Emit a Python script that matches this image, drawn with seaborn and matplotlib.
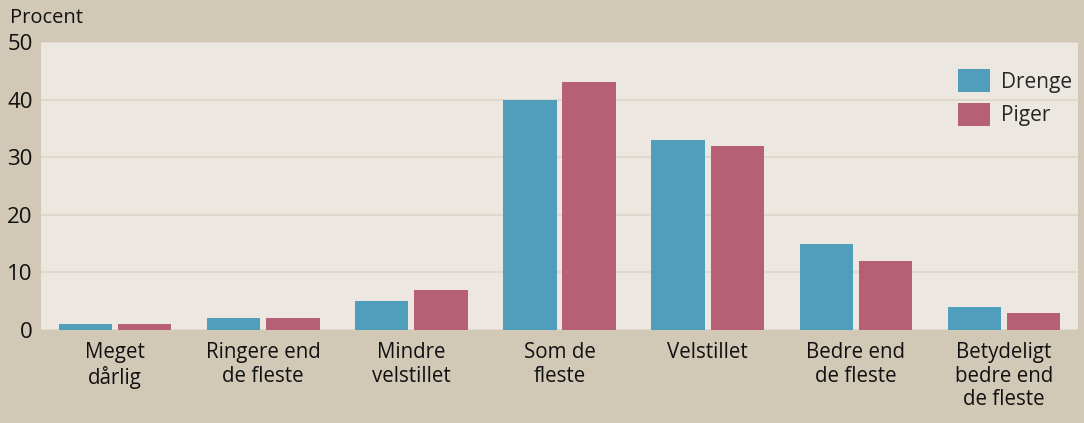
import pandas as pd
import matplotlib.pyplot as plt
import seaborn as sns

# data
categories = ['Meget\ndårlig', 'Ringere end\nde fleste', 'Mindre\nvelstillet', 'Som de\nfleste',
              'Velstillet', 'Bedre end\nde fleste', 'Betydeligt\nbedre end\nde fleste']
drenge = [1, 2, 5, 40, 33, 15, 4]
piger = [1, 2, 7, 43, 32, 12, 3]
groups = ['Drenge', 'Piger']
yticks = [0, 10, 20, 30, 40, 50]

outer_bg = '#D1C8B5'
inner_bg = '#ECE7E0'
palette = {'Drenge': '#4F9EBB', 'Piger': '#B76075'}

sns.set_theme(style='white')
plt.rcParams['font.family'] = ['Open Sans', 'DejaVu Sans']

df = pd.DataFrame({
    'kategori': categories * 2,
    'procent': drenge + piger,
    'køn': ['Drenge'] * len(categories) + ['Piger'] * len(categories),
})

fig = plt.figure(figsize=(10.84, 4.23), dpi=100, facecolor=outer_bg)
ax = fig.add_axes([0.0378, 0.2199, 0.9567, 0.6808])
ax.set_facecolor(inner_bg)

sns.barplot(data=df, x='kategori', y='procent', hue='køn', hue_order=groups,
            palette=palette, width=0.8, gap=0.1, saturation=1, linewidth=0,
            ax=ax, zorder=3)

ax.set_ylim(0, 50)
ax.set_yticks(yticks)
ax.yaxis.grid(True, color='#DED6C9', linewidth=1.2, zorder=0)
ax.set_axisbelow(True)
for s in ax.spines.values():
    s.set_visible(False)

ax.set_xlabel('')
ax.set_ylabel('')
ax.tick_params(axis='y', length=0, pad=6, labelsize=16, labelcolor='#111111')
ax.tick_params(axis='x', length=0, pad=9, labelsize=14.8, labelcolor='#111111')
for lbl in ax.get_xticklabels():
    lbl.set_linespacing(1.15)
    lbl.set_verticalalignment('top')

fig.text(0.009, 0.958, 'Procent', fontsize=14.5, color='#111111', va='center', ha='left')

# legend sits a bit inside the top right corner
leg = ax.legend(loc='upper right', bbox_to_anchor=(1.012, 0.97), frameon=False,
                fontsize=15, handlelength=1.55, handleheight=1.3, handletextpad=0.5,
                labelspacing=0.5)

fig.savefig('out.png', dpi=100, facecolor=outer_bg)
